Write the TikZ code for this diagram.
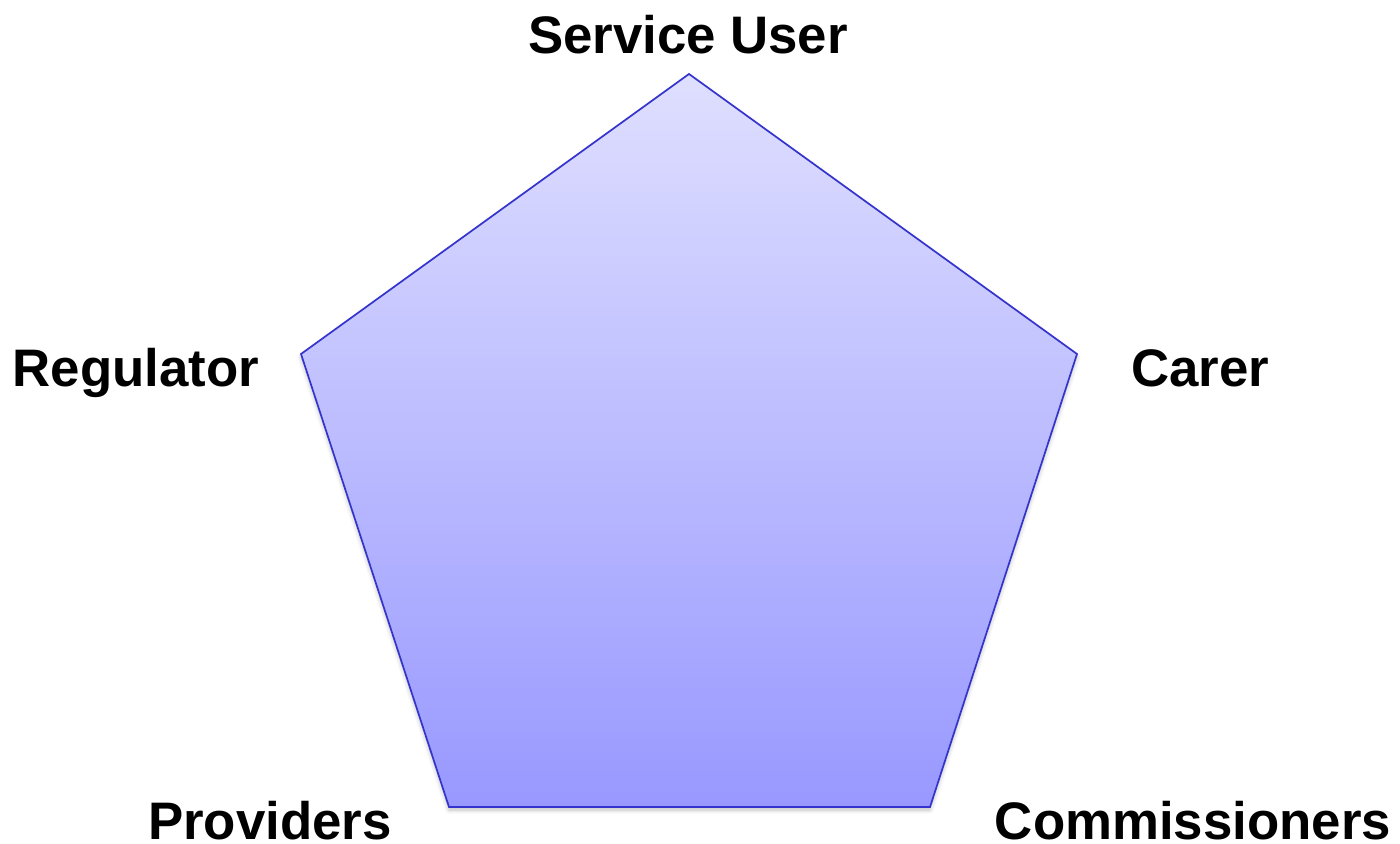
\documentclass[tikz,border=0pt]{standalone}
\usepackage{fontspec}
\setmainfont{Liberation Sans}
\usetikzlibrary{shadows.blur}
\definecolor{topc}{HTML}{DFDFFF}
\definecolor{botc}{HTML}{9898FF}
\definecolor{edgec}{HTML}{3434CC}
\tikzset{
  lbl/.style={font=\fontsize{26.4}{30}\selectfont\bfseries, anchor=base, inner sep=0pt},
  penta/.style={draw=edgec, line width=0.85pt, top color=topc, bottom color=botc,
    blur shadow={shadow xshift=0pt, shadow yshift=-1.5pt, shadow blur steps=6, shadow opacity=25}}
}
\begin{document}
\begin{tikzpicture}[x=0.5pt,y=-0.5pt]
\useasboundingbox (0,0) rectangle (1400,844);
\coordinate (t) at (689,74);
\coordinate (r) at (1077,354);
\coordinate (br) at (930,807);
\coordinate (bl) at (449,807);
\coordinate (l) at (301,354);
\draw[penta] (t) -- (r) -- (br) -- (bl) -- (l) -- cycle;
\node[lbl] (su) at (688,54) {Service User};
\node[lbl] (reg) at (136,386) {Regulator};
\node[lbl] (car) at (1200,386) {Carer};
\node[lbl] (prov) at (270,839) {Providers};
\node[lbl] (com) at (1193,839) {Commissioners};
\end{tikzpicture}
\end{document}
